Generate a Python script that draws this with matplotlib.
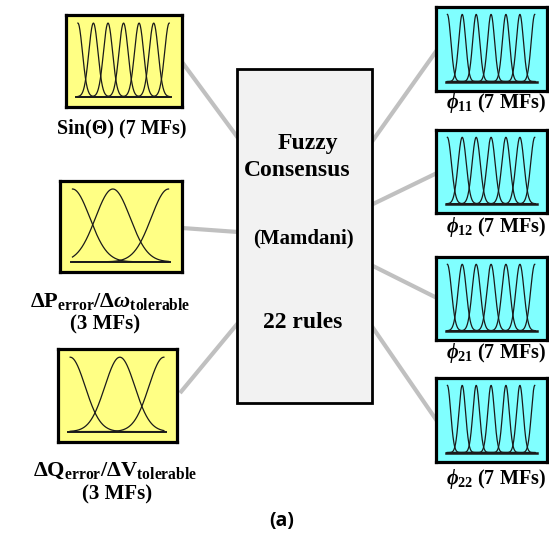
import numpy as np
import matplotlib
matplotlib.use("Agg")
import matplotlib.pyplot as plt
from matplotlib.patches import Rectangle

plt.rcParams.update({
    "font.family": "Liberation Serif",
    "font.weight": "bold",
    "mathtext.fontset": "custom",
    "mathtext.rm": "Liberation Serif:bold",
    "mathtext.it": "Liberation Serif:italic:bold",
    "mathtext.bf": "Liberation Serif:bold",
})

W, H = 549, 539

# ---- data -------------------------------------------------------------
input_labels = ["Sin(\u0398) (7 MFs)",
                r"$\Delta\mathrm{P}_{\mathrm{error}}/\Delta\omega_{\mathrm{tolerable}}$",
                r"$\Delta\mathrm{Q}_{\mathrm{error}}/\Delta\mathrm{V}_{\mathrm{tolerable}}$"]
input_counts = ["", "(3 MFs)", "(3 MFs)"]
input_centers = [[0, 0.17, 0.33, 0.5, 0.67, 0.83, 1.0],
                 [0, 0.42, 1.0],
                 [0, 0.53, 1.0]]
input_sigmas = [0.05, 0.18, 0.16]

output_labels = [r"$\phi_{11}$ (7 MFs)", r"$\phi_{12}$ (7 MFs)",
                 r"$\phi_{21}$ (7 MFs)", r"$\phi_{22}$ (7 MFs)"]
output_centers = [[0, 0.17, 0.33, 0.5, 0.67, 0.83, 1.0],
                  [0, 0.17, 0.33, 0.5, 0.67, 0.83, 1.0],
                  [0, 0.17, 0.33, 0.5, 0.67, 0.83, 1.0],
                  [0, 0.17, 0.33, 0.5, 0.67, 0.83, 1.0]]
output_sigmas = [0.04, 0.047, 0.047, 0.038]

engine_lines = ["Fuzzy", "Consensus", "(Mamdani)", "22 rules"]
sub_label = "(a)"

# ---- layout (pixels, y down) -----------------------------------------
YELLOW = "#ffff84"
CYAN = "#80ffff"
GREY_FILL = "#f2f2f2"
LINK = "#c0c0c0"
INK = "#1a1a1a"

in_boxes = [(66, 15, 182, 107), (60, 181, 182, 272), (58, 349, 177, 442)]
in_label_xy = [(122, 128), (110, 302), (115, 471)]
in_label_size = [14.5, 16, 16]
in_count_xy = [None, (105, 324), (117, 494)]

out_boxes = [(436, 7, 547, 91), (436, 130, 547, 213),
             (436, 257, 547, 340), (436, 378, 547, 462)]
out_label_xy = [(496, 103), (496, 227), (496, 353), (496, 479)]

center_box = (237, 69, 372, 403)
engine_xy = [(308, 143), (297, 170), (303, 238), (303, 322)]
engine_size = [17, 17, 15, 17]

links = [((182, 62), (238, 138)), ((182, 228), (238, 232)),
         ((180, 393), (238, 323)),
         ((371, 143), (437, 50)), ((371, 205), (437, 173)),
         ((371, 265), (437, 298)), ((371, 325), (437, 421))]


def mf_panel(fig, box, face, centers, sigma, base_lw):
    x0, y0, x1, y1 = box
    a = fig.add_axes([x0 / W, 1 - y1 / H, (x1 - x0) / W, (y1 - y0) / H])
    a.set_facecolor(face)
    x = np.linspace(0, 1, 400)
    for c in centers:
        a.plot(x, np.exp(-(x - c) ** 2 / (2 * sigma ** 2)), color=INK, lw=0.9)
    a.plot([-0.02, 1.02], [0, 0], color=INK, lw=base_lw)
    a.set_xlim(-0.13, 1.14)
    a.set_ylim(-0.14, 1.11)
    a.set_xticks([])
    a.set_yticks([])
    for s in a.spines.values():
        s.set_linewidth(2.3)
        s.set_color("black")
    return a


fig = plt.figure(figsize=(W / 100, H / 100), dpi=100)
ax = fig.add_axes([0, 0, 1, 1])
ax.set_xlim(0, W)
ax.set_ylim(H, 0)
ax.axis("off")

for (p, q) in links:
    ax.plot([p[0], q[0]], [p[1], q[1]], color=LINK, lw=3.0,
            solid_capstyle="butt", zorder=1)

cx0, cy0, cx1, cy1 = center_box
ax.add_patch(Rectangle((cx0, cy0), cx1 - cx0, cy1 - cy0, facecolor=GREY_FILL,
                       edgecolor="black", lw=2.0, zorder=2))
for txt, (tx, ty), fs in zip(engine_lines, engine_xy, engine_size):
    ax.text(tx, ty, txt, ha="center", va="center", fontsize=fs,
            fontweight="bold", zorder=3)

for box, cen, sig, lab, lxy, lfs, cnt, cxy in zip(in_boxes, input_centers,
                                                   input_sigmas, input_labels,
                                                   in_label_xy, in_label_size,
                                                   input_counts, in_count_xy):
    mf_panel(fig, box, YELLOW, cen, sig, 1.4)
    ax.text(lxy[0], lxy[1], lab, ha="center", va="center",
            fontsize=lfs, fontweight="bold")
    if cxy is not None:
        ax.text(cxy[0], cxy[1], cnt, ha="center", va="center",
                fontsize=15, fontweight="bold")

for box, cen, sig, lab, lxy in zip(out_boxes, output_centers, output_sigmas,
                                   output_labels, out_label_xy):
    mf_panel(fig, box, CYAN, cen, sig, 1.8)
    ax.text(lxy[0], lxy[1], lab, ha="center", va="center",
            fontsize=14.5, fontweight="bold")

ax.text(282, 521, sub_label, ha="center", va="center", fontsize=14,
        family="Open Sans", fontweight="bold")

fig.savefig("out.png", dpi=100)
